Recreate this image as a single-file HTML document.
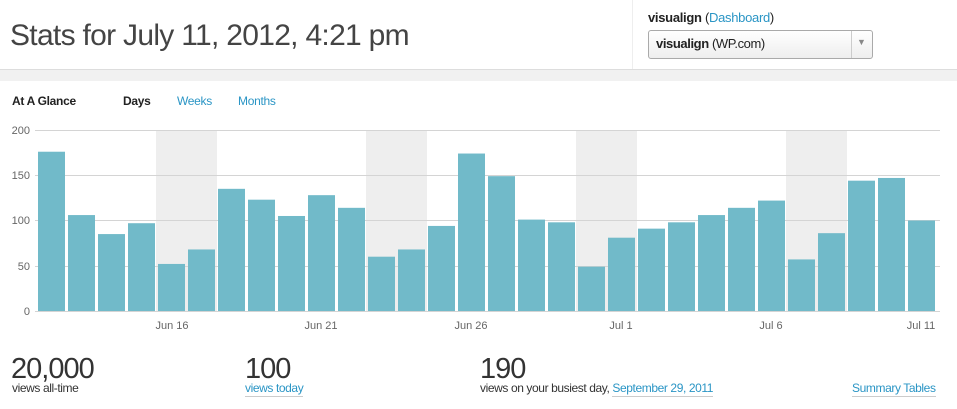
<!DOCTYPE html>
<html><head><meta charset="utf-8"><style>
body{margin:0;width:957px;height:409px;overflow:hidden;background:#fff;font-family:"Liberation Sans",Arial,sans-serif;color:#333;position:relative}
.a{position:absolute;white-space:nowrap}
.blue{color:#2a95c5}
.ul{border-bottom:1px solid #ccc;padding-bottom:1px}
</style></head><body>
<div class="a" style="left:0;top:69px;width:957px;height:11px;background:#f1f1f1;border-top:1px solid #ddd"></div>
<div class="a" style="left:632px;top:0;width:325px;height:69px;border-left:1px solid #eee;background:#fff"></div>
<div class="a" style="left:10px;top:19px;font-size:30px;color:#444;letter-spacing:-0.7px">Stats for July 11, 2012, 4:21 pm</div>
<div class="a" style="left:648px;top:10px;font-size:13px;color:#222;letter-spacing:-0.3px"><b>visualign</b> (<span class="blue">Dashboard</span>)</div>
<div class="a" style="left:648px;top:30px;width:223px;height:27px;border:1px solid #aaa;border-radius:3px;background:linear-gradient(#fff,#eee)"></div>
<div class="a" style="left:851px;top:31px;width:1px;height:27px;background:#ccc"></div>
<div class="a" style="left:857px;top:37px;font-size:9px;color:#888">▼</div>
<div class="a" style="left:656px;top:36px;font-size:13px;color:#222;letter-spacing:-0.4px"><b>visualign</b> (WP.com)</div>
<div class="a" style="left:12px;top:94px;font-size:12px;font-weight:bold;color:#222;letter-spacing:-0.3px">At A Glance</div>
<div class="a" style="left:123px;top:94px;font-size:12px;font-weight:bold;color:#222;letter-spacing:-0.3px">Days</div>
<div class="a blue" style="left:177px;top:94px;font-size:12px;letter-spacing:-0.3px">Weeks</div>
<div class="a blue" style="left:238px;top:94px;font-size:12px;letter-spacing:-0.3px">Months</div>
<svg class="a" style="left:0;top:0" width="957" height="409">
<g fill="#eeeeee">
<rect x="156" y="130" width="61" height="181"/><rect x="366" y="130" width="61" height="181"/>
<rect x="576" y="130" width="61" height="181"/><rect x="786" y="130" width="61" height="181"/>
</g>
<g stroke="#d4d4d4" stroke-width="1">
<line x1="35" x2="940" y1="130.5" y2="130.5"/><line x1="35" x2="940" y1="175.5" y2="175.5"/>
<line x1="35" x2="940" y1="220.5" y2="220.5"/><line x1="35" x2="940" y1="266.5" y2="266.5"/>
<line x1="35" x2="940" y1="311.5" y2="311.5"/>
</g>
<g font-size="11" fill="#666" text-anchor="end" font-family="Liberation Sans,sans-serif">
<text x="30" y="134">200</text><text x="30" y="179">150</text><text x="30" y="224">100</text><text x="30" y="270">50</text><text x="30" y="315">0</text>
</g>
<g fill="#71bac9" id="bars"></g>
<g font-size="11" fill="#666" text-anchor="middle" font-family="Liberation Sans,sans-serif">
<text x="172" y="329">Jun 16</text><text x="321" y="329">Jun 21</text><text x="471" y="329">Jun 26</text>
<text x="621" y="329">Jul 1</text><text x="771" y="329">Jul 6</text><text x="921" y="329">Jul 11</text>
</g>
</svg>
<div class="a" style="left:11px;top:353px;font-size:29px;color:#333;letter-spacing:-1px">20,000</div>
<div class="a" style="left:12px;top:381px;font-size:12px;letter-spacing:-0.4px">views all-time</div>
<div class="a" style="left:245px;top:353px;font-size:29px;color:#333;letter-spacing:-1px">100</div>
<div class="a blue ul" style="left:245px;top:381px;font-size:12px;letter-spacing:-0.4px">views today</div>
<div class="a" style="left:480px;top:353px;font-size:29px;color:#333;letter-spacing:-1px">190</div>
<div class="a" style="left:480px;top:381px;font-size:12px;letter-spacing:-0.4px">views on your busiest day, <span class="blue ul">September 29, 2011</span></div>
<div class="a blue ul" style="left:852px;top:381px;font-size:12px;letter-spacing:-0.4px">Summary Tables</div>
<script>
var v=[176,106,85,97,52,68,135,123,105,128,114,60,68,94,174,149,101,98,49,81,91,98,106,114,122,57,86,144,147,100];
var g=document.getElementById('bars'),s='';
v.forEach(function(d,i){var h=d*0.905;s+='<rect x="'+(38+i*30)+'" y="'+(311-h)+'" width="27" height="'+h+'"/>';});
g.innerHTML=s;
</script>
</body></html>
